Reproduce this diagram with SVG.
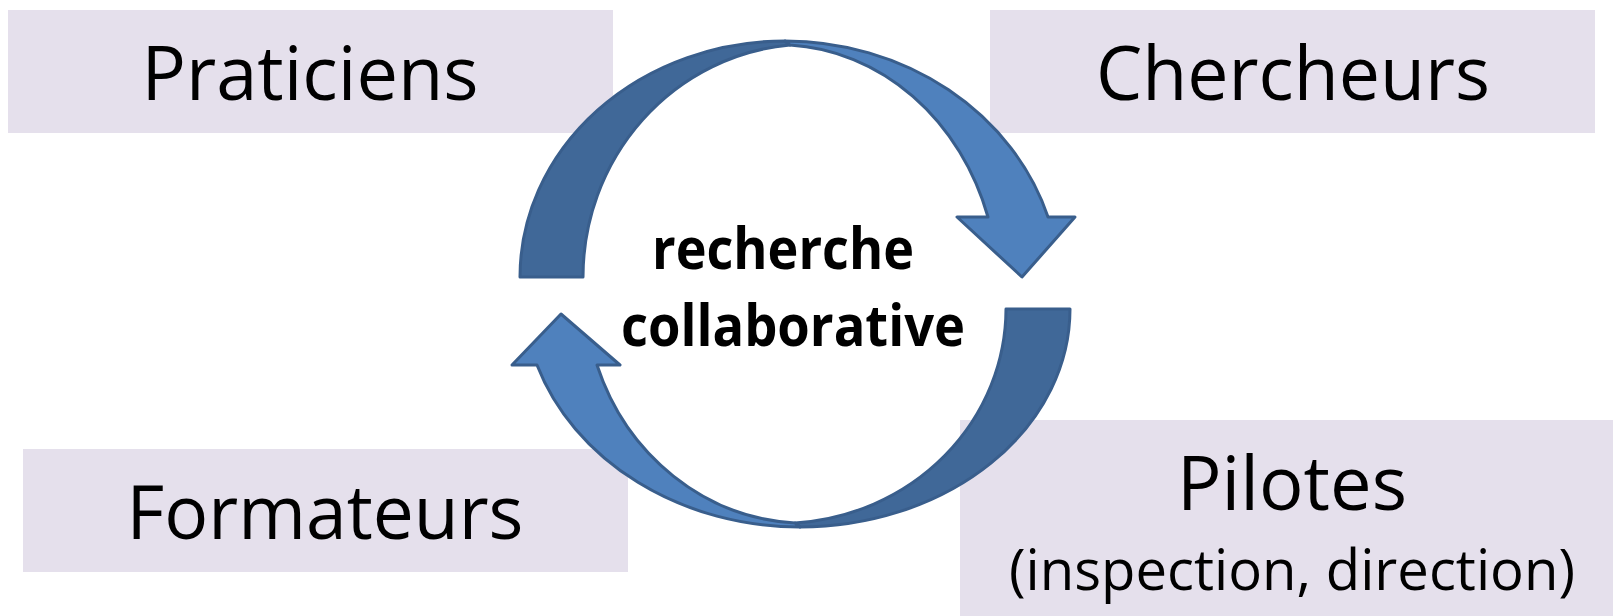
<svg xmlns="http://www.w3.org/2000/svg" width="1613" height="616" viewBox="0 0 1613 616">
<style>
.box{fill:#E5E0EC;}
.lbl{font-family:"Open Sans","Liberation Sans",sans-serif;font-size:75px;fill:#000;text-anchor:middle;}
.sub{font-family:"Open Sans","Liberation Sans",sans-serif;font-size:57px;fill:#000;text-anchor:middle;}
.ctr{font-family:"Open Sans","Liberation Sans",sans-serif;font-size:57px;font-weight:bold;fill:#000;text-anchor:middle;}
.dark{fill:#406898;stroke:#395E8C;stroke-width:3;stroke-linejoin:round;}
.light{fill:#4F81BD;stroke:#395E8C;stroke-width:3;stroke-linejoin:round;}
</style>
<rect width="1613" height="616" fill="#FFFFFF"/>
<g id="praticiens">
<rect class="box" x="8" y="10" width="605" height="123"/>
<text class="lbl" x="310" y="100" textLength="337" lengthAdjust="spacingAndGlyphs">Praticiens</text>
</g>
<g id="chercheurs">
<rect class="box" x="990" y="10" width="605" height="123"/>
<text class="lbl" x="1293" y="100" textLength="394" lengthAdjust="spacingAndGlyphs">Chercheurs</text>
</g>
<g id="formateurs">
<rect class="box" x="23" y="449" width="605" height="123"/>
<text class="lbl" x="325" y="539" textLength="397" lengthAdjust="spacingAndGlyphs">Formateurs</text>
</g>
<g id="pilotes">
<rect class="box" x="960" y="420" width="653" height="196"/>
<text class="lbl" x="1292" y="510" textLength="230" lengthAdjust="spacingAndGlyphs">Pilotes</text>
<text class="sub" x="1292" y="590" textLength="566" lengthAdjust="spacingAndGlyphs">(inspection, direction)</text>
</g>
<g id="connectors">
<path class="dark" d="M520,277 A265,236 0 0 1 785,41 L790,45 A227,233 0 0 0 583,277 Z"/>
<path class="light" d="M785,41 A275,249 0 0 1 1048,217 L1075,217 L1022,277 L957,217 L988,217 A220,247 0 0 0 790,45 Z"/>
<path class="dark" d="M1070,309 A270,218 0 0 1 800,527 L795,523 A226,215 0 0 0 1006,309 Z"/>
<path class="light" d="M800,527 A277,237 0 0 1 537,365 L512,365 L561,314 L620,365 L597,365 A222,236 0 0 0 795,523 Z"/>
</g>
<g id="center">
<text class="ctr" x="783" y="269" textLength="262" lengthAdjust="spacingAndGlyphs">recherche</text>
<text class="ctr" x="793" y="346" textLength="344" lengthAdjust="spacingAndGlyphs">collaborative</text>
</g>
</svg>
